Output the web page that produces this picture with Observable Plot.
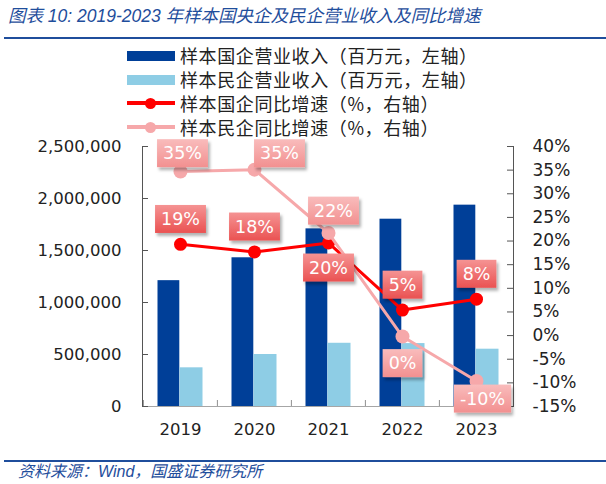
<!DOCTYPE html>
<html><head><meta charset="utf-8">
<script src="https://cdn.jsdelivr.net/npm/d3@7"></script>
<script src="https://cdn.jsdelivr.net/npm/@observablehq/plot@0.6"></script>
<style>
body{margin:0;background:#fff;}
#wrap{position:relative;width:606px;height:484px;overflow:hidden;font-family:"Noto Sans CJK SC",sans-serif;color:#222;}
#title{position:absolute;left:8px;top:6px;line-height:20px;font-size:17.5px;font-style:italic;color:#1f4e9c;font-family:"Liberation Sans","Noto Sans CJK SC",sans-serif;white-space:nowrap;}
#topline{position:absolute;left:4px;right:0;top:37px;height:2px;background:#1f4e9c;}
#botline{position:absolute;left:4px;right:0;top:460px;height:2px;background:#1f4e9c;}
#source{position:absolute;left:18px;top:462px;line-height:20px;font-size:16px;font-style:italic;color:#1f4e9c;font-family:"Liberation Sans","Noto Sans CJK SC",sans-serif;white-space:nowrap;}
.lg{position:absolute;left:127px;height:24px;line-height:24px;white-space:nowrap;font-size:18px;letter-spacing:0.6px;}
.sw{position:absolute;left:0;width:48px;}
.lt{position:absolute;left:53px;top:0;}
.dotsw{position:absolute;width:11px;height:11px;border-radius:50%;left:18px;top:6.5px;}
#chart{position:absolute;left:0;top:130px;}
</style></head>
<body>
<div id="wrap">
  <div id="title">图表 10: 2019-2023 年样本国央企及民企营业收入及同比增速</div>
  <div id="topline"></div>
  <div id="legend"></div>
  <div id="chart"></div>
  <div id="botline"></div>
  <div id="source">资料来源：Wind，国盛证券研究所</div>
</div>
<script>
const years = ["2019", "2020", "2021", "2022", "2023"];
const soeRevenue = [1210000, 1430000, 1708000, 1801000, 1936000];
const poeRevenue = [372000, 500000, 608000, 605000, 551000];
const soeGrowth = [19.3, 17.7, 19.6, 5.4, 7.7];
const poeGrowth = [34.7, 35.1, 21.7, -0.2, -9.6];
const leftTicks = [0, 500000, 1000000, 1500000, 2000000, 2500000];
const rightTicks = [-15, -10, -5, 0, 5, 10, 15, 20, 25, 30, 35, 40];
const seriesNames = [
  "样本国企营业收入（百万元，左轴）",
  "样本民企营业收入（百万元，左轴）",
  "样本国企同比增速（%，右轴）",
  "样本民企同比增速（%，右轴）"
];
const colors = {soeBar: "#003f98", poeBar: "#8ecde5", soeLine: "#ff0000", poeLine: "#f6a8aa"};

const leftMax = 2500000, rightMin = -15, rightMax = 40;
const toLeft = p => (p - rightMin) / (rightMax - rightMin) * leftMax;
const fromLeft = v => Math.round(v / leftMax * (rightMax - rightMin) + rightMin);
const pctLabel = v => `${Math.round(v) || 0}%`;

const table = years.map((year, i) => ({year, soe: soeRevenue[i], poe: poeRevenue[i], soeG: soeGrowth[i], poeG: poeGrowth[i]}));

// legend
const legend = document.getElementById("legend");
const legendTops = [43, 67, 91, 115];
const swatch = [
  `<div class="sw" style="top:8px;height:10px;background:${colors.soeBar}"></div>`,
  `<div class="sw" style="top:8px;height:10px;background:${colors.poeBar}"></div>`,
  `<div class="sw" style="top:10px;height:4px;background:${colors.soeLine}"></div><div class="dotsw" style="background:${colors.soeLine}"></div>`,
  `<div class="sw" style="top:10px;height:4px;background:${colors.poeLine}"></div><div class="dotsw" style="background:${colors.poeLine}"></div>`
];
seriesNames.forEach((n, i) => {
  const d = document.createElement("div");
  d.className = "lg";
  d.style.top = legendTops[i] + "px";
  d.style.width = "360px";
  d.innerHTML = swatch[i] + `<span class="lt">${n}</span>`;
  legend.appendChild(d);
});

function labels(rows, acc, name, dx, dy) {
  return Plot.text(rows, {
    x: "year", y: d => toLeft(acc(d)), text: d => pctLabel(acc(d)),
    dx, dy, fill: "white", fontSize: 17.5, ariaDescription: name
  });
}

const soeG = d => d.soeG, poeG = d => d.poeG;
const byYear = (...ys) => table.filter(d => ys.includes(d.year));

const plot = Plot.plot({
  width: 606, height: 325,
  marginTop: 16, marginBottom: 49, marginLeft: 142, marginRight: 93,
  x: {type: "band", domain: years, padding: 0},
  y: {domain: [0, leftMax]},
  style: {fontFamily: "DejaVu Sans, Verdana, sans-serif", fontSize: "16px", color: "#222", background: "transparent"},
  marks: [
    Plot.barY(table, {x: "year", y: "soe", fill: colors.soeBar, insetLeft: 14.5, insetRight: 37.7}),
    Plot.barY(table, {x: "year", y: "poe", fill: colors.poeBar, insetLeft: 36.5, insetRight: 14.5}),
    Plot.ruleY([0], {stroke: "#a6a6a6"}),
    Plot.axisX({tickSize: 0, tickPadding: 17, fontSize: 16.5, label: null}),
    Plot.axisX({tickSize: 6, dx: -37.1, dy: -6, tickFormat: () => "", stroke: "#909090", label: null}),
    Plot.frame({anchor: "left", stroke: "#555"}),
    Plot.frame({anchor: "right", stroke: "#555"}),
    Plot.axisY({ticks: leftTicks, tickFormat: d3.format(","), tickSize: 0, tickPadding: 21, fontSize: 16.5, label: null}),
    Plot.axisY({ticks: leftTicks, tickSize: 6, dx: 6, tickFormat: () => "", stroke: "#555", label: null}),
    Plot.axisY({anchor: "right", ticks: rightTicks.map(toLeft), tickFormat: v => fromLeft(v) + "%", tickSize: 0, tickPadding: 19, fontSize: 17, label: null}),
    Plot.axisY({anchor: "right", ticks: rightTicks.map(toLeft), tickSize: 7, dx: -7, tickFormat: () => "", stroke: "#555", label: null}),
    Plot.line(table, {x: "year", y: d => toLeft(d.soeG), stroke: colors.soeLine, strokeWidth: 3}),
    Plot.dot(table, {x: "year", y: d => toLeft(d.soeG), r: 6.5, fill: colors.soeLine}),
    Plot.line(table, {x: "year", y: d => toLeft(d.poeG), stroke: colors.poeLine, strokeWidth: 3}),
    Plot.dot(table, {x: "year", y: d => toLeft(d.poeG), r: 7, fill: colors.poeLine}),
    labels(byYear("2019", "2020", "2022", "2023"), soeG, "soe-label", 0, -25),
    labels(byYear("2021"), soeG, "soe-label", 0, 25),
    labels(byYear("2019"), poeG, "poe-label", 2, -18),
    labels(byYear("2020"), poeG, "poe-label", 25, -16),
    labels(byYear("2021"), poeG, "poe-label", 5, -22),
    labels(byYear("2022"), poeG, "poe-label", 0, 27),
    labels(byYear("2023"), poeG, "poe-label", 6, 18)
  ]
});
document.getElementById("chart").appendChild(plot);

// label boxes
const NS = "http://www.w3.org/2000/svg";
const defs = document.createElementNS(NS, "defs");
defs.innerHTML = `
<linearGradient id="gSoe" x1="0" y1="0" x2="0" y2="1">
  <stop offset="0" stop-color="#f59393"/><stop offset="1" stop-color="#ea5252"/></linearGradient>
<linearGradient id="gPoe" x1="0" y1="0" x2="0" y2="1">
  <stop offset="0" stop-color="#f9bcbc"/><stop offset="1" stop-color="#f29090"/></linearGradient>
<filter id="shadow" x="-20%" y="-20%" width="150%" height="160%">
  <feDropShadow dx="2" dy="3" stdDeviation="1.8" flood-color="#000" flood-opacity="0.3"/></filter>`;
plot.insertBefore(defs, plot.firstChild);
for (const [lab, grad] of [["soe-label", "gSoe"], ["poe-label", "gPoe"]]) {
  plot.querySelectorAll(`g[aria-description="${lab}"] text`).forEach(t => {
    const b = t.getBBox();
    const r = document.createElementNS(NS, "rect");
    r.setAttribute("x", b.x - 6);
    r.setAttribute("y", b.y - 4);
    r.setAttribute("width", b.width + 12);
    r.setAttribute("height", b.height + 8);
    if (t.getAttribute("transform")) r.setAttribute("transform", t.getAttribute("transform"));
    r.setAttribute("fill", `url(#${grad})`);
    r.setAttribute("filter", "url(#shadow)");
    t.parentNode.insertBefore(r, t);
  });
}
</script>
</body></html>
